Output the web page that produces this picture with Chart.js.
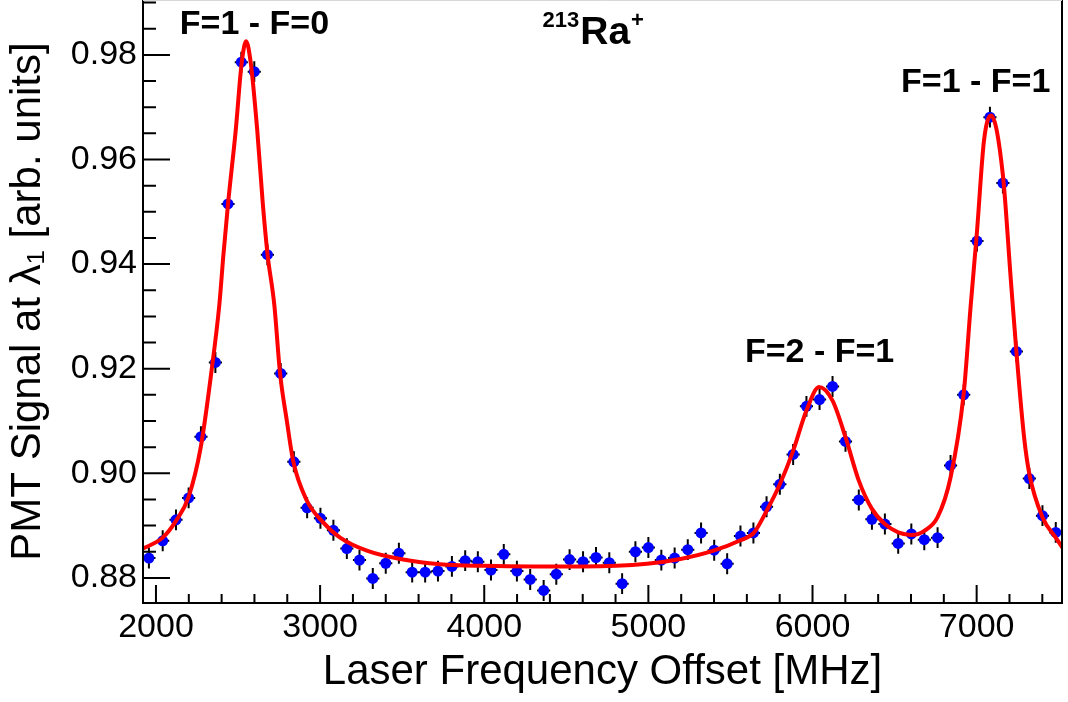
<!DOCTYPE html>
<html>
<head>
<meta charset="utf-8">
<title>213Ra+ hyperfine scan</title>
<script src="https://cdn.jsdelivr.net/npm/chart.js@4.4.1/dist/chart.umd.min.js"></script>
<style>
  html, body { margin: 0; padding: 0; background: #fff; }
  #wrap { width: 1068px; height: 702px; }
</style>
</head>
<body>
<div id="wrap"><canvas id="scan" width="1068" height="702"></canvas></div>
<script>
// PMT signal vs laser frequency offset (MHz)
const freqMHz = [
  1957, 2041, 2122, 2199, 2274, 2362, 2439, 2520, 2599, 2679,
  2760, 2840, 2921, 3002, 3081, 3163, 3240, 3321, 3400, 3480,
  3561, 3640, 3718, 3803, 3884, 3961, 4041, 4119, 4199, 4280,
  4362, 4439, 4520, 4602, 4681, 4762, 4840, 4921, 5000, 5079,
  5160, 5240, 5321, 5401, 5480, 5561, 5640, 5720, 5801, 5882,
  5963, 6043, 6122, 6201, 6282, 6362, 6441, 6522, 6602, 6681,
  6762, 6841, 6921, 7002, 7081, 7160, 7242, 7321, 7401, 7482
];
const signal = [
  0.8838, 0.8871, 0.8911, 0.8953, 0.9070, 0.9212, 0.9515, 0.9786, 0.9768, 0.9418,
  0.9191, 0.9022, 0.8934, 0.8914, 0.8891, 0.8856, 0.8834, 0.8799, 0.8828, 0.8847,
  0.8811, 0.8811, 0.8813, 0.8822, 0.8833, 0.8831, 0.8815, 0.8845, 0.8813, 0.8797,
  0.8776, 0.8807, 0.8835, 0.8831, 0.8839, 0.8829, 0.8789, 0.8850, 0.8858, 0.8834,
  0.8838, 0.8854, 0.8886, 0.8853, 0.8827, 0.8880, 0.8886, 0.8936, 0.8979, 0.9036,
  0.9128, 0.9141, 0.9166, 0.9061, 0.8949, 0.8912, 0.8903, 0.8866, 0.8884, 0.8873,
  0.8877, 0.9015, 0.9150, 0.9444, 0.9681, 0.9555, 0.9233, 0.8990, 0.8919, 0.8887
];
const sigErr = 0.002;   // half length of the vertical error bars
const freqErr = 40;     // half width of the horizontal error bars (MHz)

// fitted line shape, sampled along the scan
const fitMHz = [
  1921, 2041, 2122, 2199, 2274, 2339, 2386, 2411, 2439, 2486,
  2522, 2549, 2577, 2617, 2651, 2680, 2721, 2756, 2797, 2837,
  2919, 3010, 3122, 3285, 3488, 3732, 4000, 4300, 4600, 4992,
  5195, 5397, 5561, 5642, 5720, 5801, 5882, 5963, 6040, 6122,
  6201, 6282, 6362, 6441, 6522, 6602, 6681, 6762, 6841, 6921,
  6963, 7002, 7045, 7088, 7160, 7207, 7242, 7289, 7321, 7401,
  7482, 7523
];
const fitSignal = [
  0.8856, 0.8877, 0.8909, 0.8955, 0.9052, 0.9197, 0.9322, 0.9418, 0.9515, 0.9656,
  0.9784, 0.9826, 0.9786, 0.9656, 0.9515, 0.9418, 0.9322, 0.9191, 0.9101, 0.9022,
  0.8948, 0.8909, 0.8877, 0.8852, 0.8836, 0.8826, 0.8823, 0.8822, 0.8822, 0.8827,
  0.8836, 0.8852, 0.8872, 0.8886, 0.8928, 0.8979, 0.9043, 0.9120, 0.9165, 0.9139,
  0.9069, 0.8986, 0.8932, 0.8903, 0.8887, 0.8882, 0.8890, 0.8916, 0.8992, 0.9152,
  0.9318, 0.9462, 0.9637, 0.9684, 0.9570, 0.9375, 0.9233, 0.9069, 0.8999, 0.8916,
  0.8877, 0.8858
];

// axis ticks
const xMajor = [2000, 3000, 4000, 5000, 6000, 7000];
const xMinor = [2200, 2400, 2600, 2800, 3200, 3400, 3600, 3800, 4200, 4400, 4600, 4800,
                5200, 5400, 5600, 5800, 6200, 6400, 6600, 6800, 7200, 7400];
const yMajor = [0.88, 0.90, 0.92, 0.94, 0.96, 0.98];
const yMinor = [0.885, 0.895, 0.905, 0.915, 0.925, 0.935, 0.945, 0.955, 0.965, 0.975, 0.985, 0.99,
                0.89, 0.91, 0.93, 0.95, 0.97];

// peak labels, placed in data coordinates (centre x, baseline y)
const peakLabels = [
  { text: 'F=1 - F=0', x: 2600, y: 0.9840 },
  { text: 'F=2 - F=1', x: 6043, y: 0.9212 },
  { text: 'F=1 - F=1', x: 6994, y: 0.9729 }
];

const FONT = '"Liberation Sans", Arial, Helvetica, sans-serif';
Chart.defaults.font.family = FONT;
Chart.defaults.color = '#000';

const rootStyle = {
  id: 'rootStyle',
  // error bars go underneath the markers
  beforeDatasetsDraw(chart) {
    const { ctx, scales: { x, y } } = chart;
    ctx.save();
    ctx.strokeStyle = '#000';
    ctx.lineWidth = 2;
    ctx.beginPath();
    freqMHz.forEach((f, i) => {
      const px = x.getPixelForValue(f);
      const py = y.getPixelForValue(signal[i]);
      ctx.moveTo(px, y.getPixelForValue(signal[i] - sigErr));
      ctx.lineTo(px, y.getPixelForValue(signal[i] + sigErr));
      ctx.moveTo(x.getPixelForValue(f - freqErr), py);
      ctx.lineTo(x.getPixelForValue(f + freqErr), py);
    });
    ctx.stroke();
    ctx.restore();
  },
  afterDraw(chart) {
    const { ctx, chartArea: a, scales: { x, y } } = chart;
    ctx.save();
    ctx.strokeStyle = '#000';
    ctx.lineWidth = 2;
    ctx.beginPath();
    // inward ticks, ROOT style
    xMajor.forEach(v => { const p = x.getPixelForValue(v); ctx.moveTo(p, a.bottom); ctx.lineTo(p, a.bottom - 18); });
    xMinor.forEach(v => { const p = x.getPixelForValue(v); ctx.moveTo(p, a.bottom); ctx.lineTo(p, a.bottom - 9); });
    yMajor.forEach(v => { const p = y.getPixelForValue(v); ctx.moveTo(a.left, p); ctx.lineTo(a.left + 27, p); });
    yMinor.forEach(v => { const p = y.getPixelForValue(v); ctx.moveTo(a.left, p); ctx.lineTo(a.left + 13, p); });
    ctx.stroke();
    // frame; the top edge mostly falls above the canvas
    ctx.beginPath();
    ctx.moveTo(a.left, a.top - 0.5);
    ctx.lineTo(a.left, a.bottom);
    ctx.lineTo(a.right, a.bottom);
    ctx.lineTo(a.right, a.top - 0.5);
    ctx.stroke();
    ctx.lineWidth = 1;
    ctx.strokeStyle = '#d8d8d8';
    ctx.beginPath();
    ctx.moveTo(a.left, a.top + 0.5);
    ctx.lineTo(a.right, a.top + 0.5);
    ctx.stroke();

    // peak labels
    ctx.fillStyle = '#000';
    ctx.textAlign = 'center';
    ctx.textBaseline = 'alphabetic';
    ctx.font = 'bold 34px ' + FONT;
    peakLabels.forEach(l => {
      ctx.fillText(l.text, x.getPixelForValue(l.x), y.getPixelForValue(l.y));
    });

    // isotope tag: ^{213}Ra^{+}
    const rx = x.getPixelForValue(4585);
    const rb = y.getPixelForValue(0.9821);
    ctx.textAlign = 'left';
    ctx.font = 'bold 39px ' + FONT;
    const wRa = ctx.measureText('Ra').width;
    ctx.fillText('Ra', rx, rb);
    ctx.font = 'bold 22px ' + FONT;
    ctx.textAlign = 'right';
    ctx.fillText('213', rx - 1, rb - 17);
    ctx.textAlign = 'left';
    ctx.fillText('+', rx + wRa + 1, rb - 17);
    ctx.restore();
  }
};

new Chart(document.getElementById('scan'), {
  type: 'scatter',
  data: {
    datasets: [
      {
        label: 'fit',
        data: fitMHz.map((f, i) => ({ x: f, y: fitSignal[i] })),
        showLine: true,
        borderColor: '#ff0000',
        borderWidth: 4,
        pointRadius: 0,
        cubicInterpolationMode: 'monotone',
        fill: false
      },
      {
        label: 'data',
        data: freqMHz.map((f, i) => ({ x: f, y: signal[i] })),
        showLine: false,
        pointRadius: 5.5,
        pointBorderWidth: 0,
        backgroundColor: '#0000ff',
        borderColor: '#0000ff'
      }
    ]
  },
  options: {
    responsive: false,
    animation: false,
    devicePixelRatio: 1,
    layout: { autoPadding: false, padding: { left: 0, right: 6, top: 0, bottom: 0 } },
    plugins: {
      legend: { display: false },
      tooltip: { enabled: false },
      title: { display: false }
    },
    scales: {
      x: {
        type: 'linear',
        min: 1921,
        max: 7520,
        grid: { display: false, drawTicks: false },
        border: { display: false },
        afterBuildTicks: s => { s.ticks = xMajor.map(v => ({ value: v })); },
        afterFit: s => { s.height = 99; s.paddingLeft = 0; s.paddingRight = 0; },
        ticks: {
          font: { size: 34 },
          padding: 4,
          maxRotation: 0,
          autoSkip: false,
          callback: v => String(v)
        },
        title: {
          display: true,
          text: 'Laser Frequency Offset [MHz]',
          font: { size: 42 },
          padding: { top: 0, bottom: 4 }
        }
      },
      y: {
        type: 'linear',
        min: 0.8752,
        max: 0.9905,
        grid: { display: false, drawTicks: false },
        border: { display: false },
        afterBuildTicks: s => { s.ticks = yMajor.map(v => ({ value: v })); },
        afterFit: s => { s.width = 143; s.paddingTop = 0; s.paddingBottom = 0; },
        ticks: {
          font: { size: 34 },
          padding: 6,
          autoSkip: false,
          callback: v => v.toFixed(2)
        },
        title: {
          display: true,
          text: 'PMT Signal at λ₁ [arb. units]',
          font: { size: 42 },
          padding: { top: 3, bottom: 0 }
        }
      }
    }
  },
  plugins: [rootStyle]
});
</script>
</body>
</html>
